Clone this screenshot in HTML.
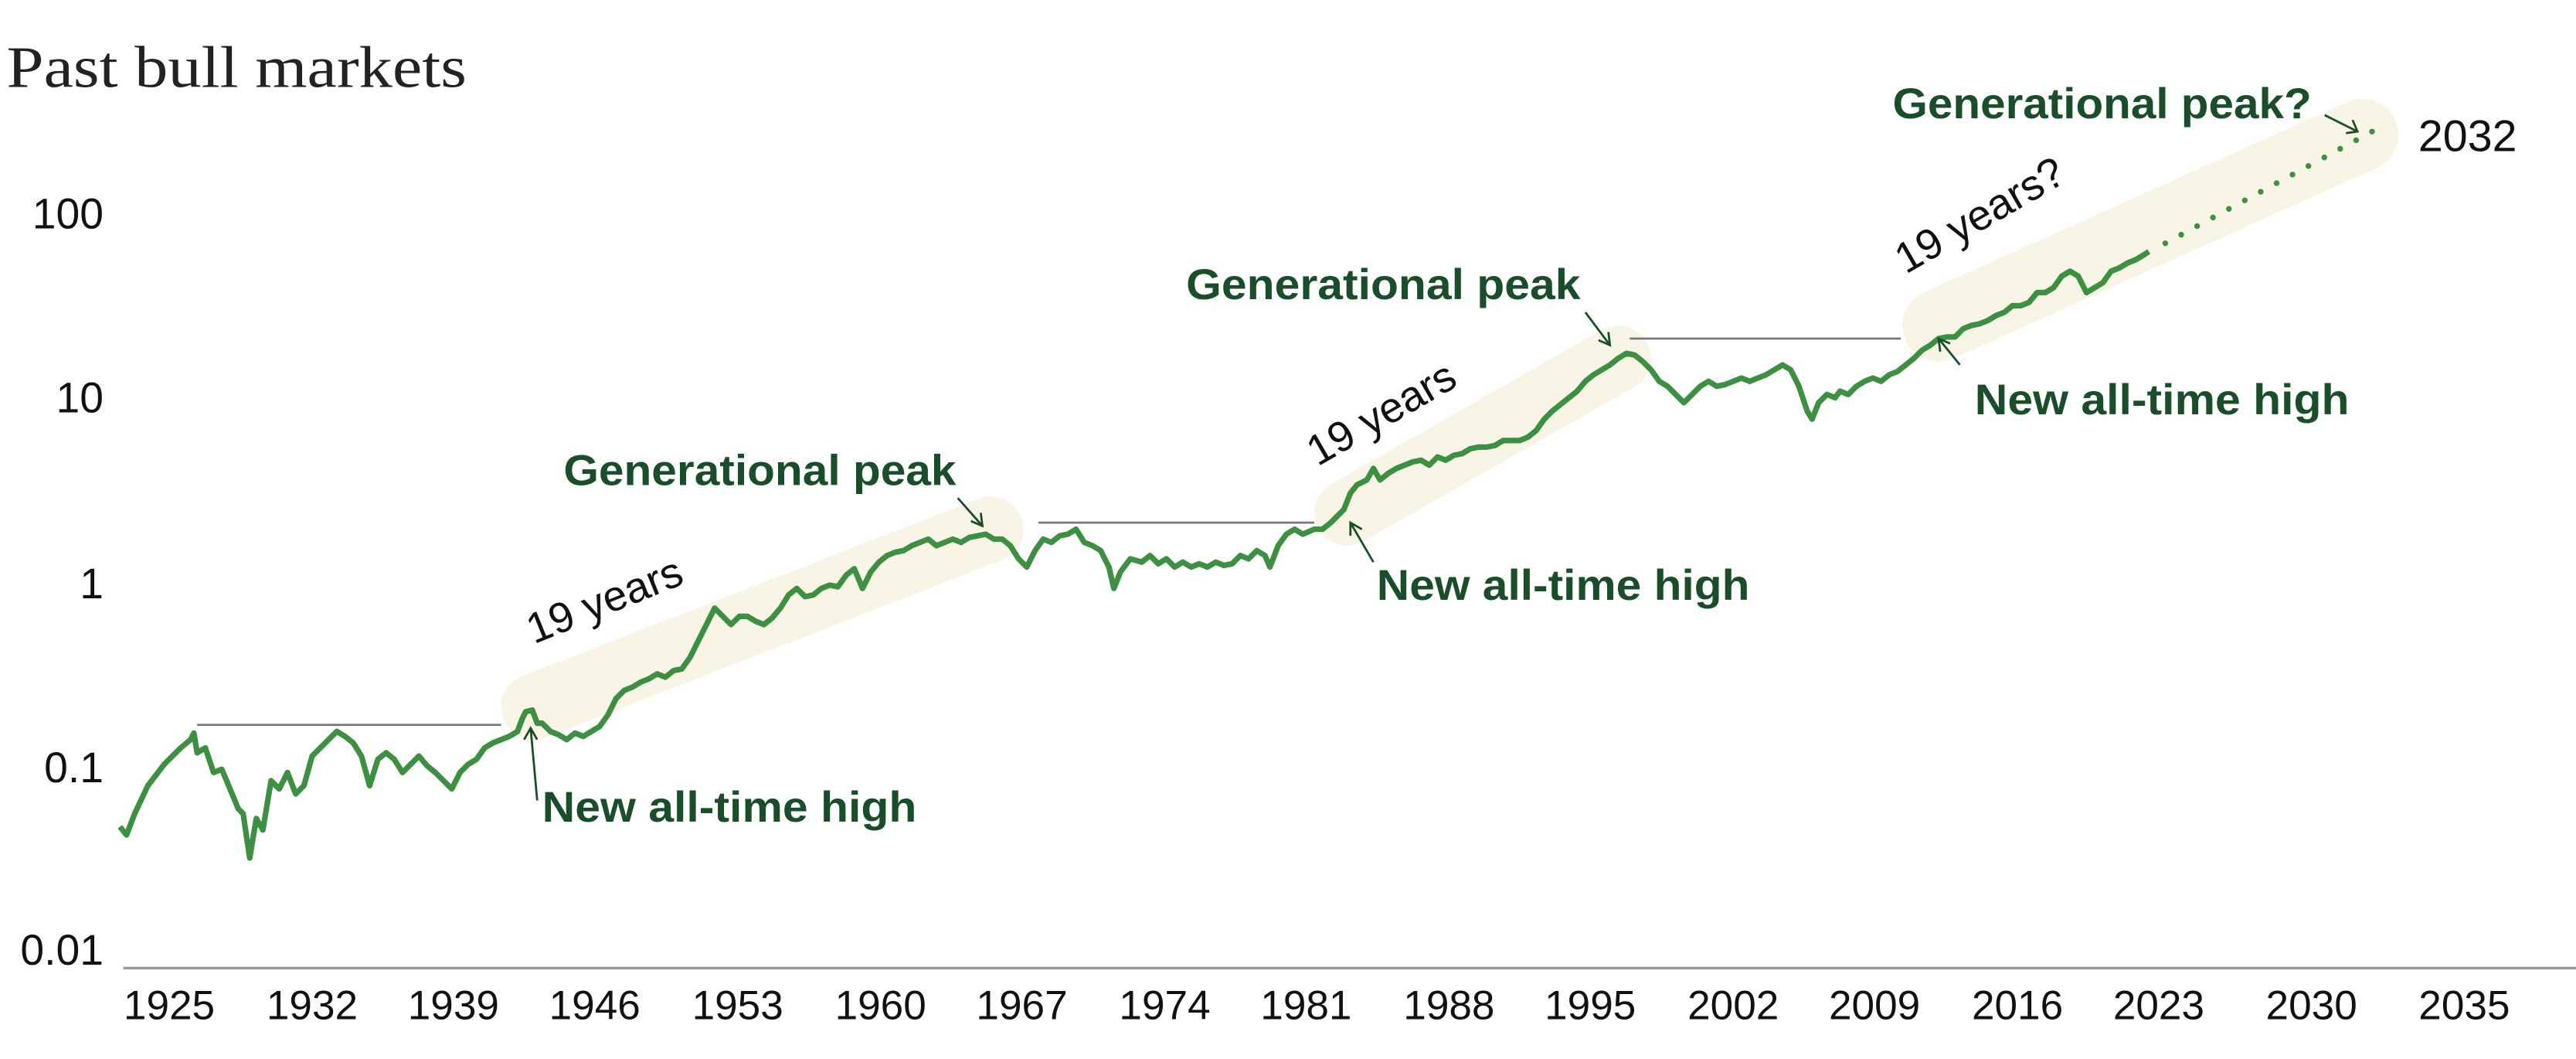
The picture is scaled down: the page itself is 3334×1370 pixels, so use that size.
<!DOCTYPE html>
<html><head><meta charset="utf-8"><style>html,body{margin:0;padding:0;background:#fff}svg{display:block}</style></head>
<body>
<svg width="3334" height="1370" viewBox="0 0 1568 644.3" xmlns="http://www.w3.org/2000/svg">
<rect width="1568" height="645" fill="#fff"/>
<g stroke="#f8f5e6" stroke-linecap="round" stroke-width="40" fill="none">
<line x1="325" y1="430" x2="603" y2="322"/>
<line x1="820" y1="312" x2="985" y2="218"/>
<line x1="1180" y1="198" x2="1438" y2="82" stroke-width="44"/>
</g>
<g stroke="#777" stroke-width="1.3">
<line x1="120" y1="441" x2="305" y2="441"/>
<line x1="632" y1="318" x2="800" y2="318"/>
<line x1="992" y1="206" x2="1157" y2="206"/>
</g>
<line x1="75" y1="589" x2="1568" y2="589" stroke="#999" stroke-width="1.6"/>
<g font-family="Liberation Sans, sans-serif" font-size="26" fill="#111" text-anchor="end">
<text x="63" y="139">100</text>
<text x="63" y="251">10</text>
<text x="63" y="364">1</text>
<text x="63" y="476">0.1</text>
<text x="63" y="587">0.01</text>
</g>
<g font-family="Liberation Sans, sans-serif" font-size="25" fill="#111" text-anchor="middle">
<text x="103" y="620">1925</text><text x="190" y="620">1932</text><text x="276" y="620">1939</text>
<text x="362" y="620">1946</text><text x="449" y="620">1953</text><text x="536" y="620">1960</text>
<text x="622" y="620">1967</text><text x="709" y="620">1974</text><text x="795" y="620">1981</text>
<text x="882" y="620">1988</text><text x="968" y="620">1995</text><text x="1055" y="620">2002</text>
<text x="1141" y="620">2009</text><text x="1228" y="620">2016</text><text x="1314" y="620">2023</text>
<text x="1407" y="620">2030</text><text x="1500" y="620">2035</text>
</g>
<text x="4" y="53" font-family="Liberation Serif, serif" font-size="36" fill="#222" textLength="280" lengthAdjust="spacingAndGlyphs">Past bull markets</text>
<polyline fill="none" stroke="#3d8f41" stroke-width="3.4" stroke-linejoin="round" points="73,503 77,508 82,495 90,478 100,465 110,455 116,450 118,446 120,458 125,455 130,470 135,468 140,480 145,492 148,495 152,522 156,498 160,505 165,475 170,480 175,470 180,483 185,478 190,460 195,455 200,450 205,445 210,448 215,452 220,460 225,478 230,462 235,458 240,462 245,470 250,465 255,460 260,466 265,470 270,475 275,480 280,470 285,465 290,462 295,455 300,452 305,450 310,448 315,445 318,437 320,433 324,432 327,440 330,440 335,445 340,447 345,450 350,446 355,448 360,445 365,442 370,435 375,425 380,420 385,418 390,415 395,413 400,410 405,412 410,408 415,407 420,400 425,390 430,380 435,370 440,375 445,380 450,375 455,375 460,378 465,380 470,376 475,370 480,362 485,358 490,363 495,362 500,358 505,356 510,357 515,350 520,346 525,358 530,348 535,342 540,338 545,336 550,335 555,332 560,330 565,328 570,332 575,330 580,328 585,330 590,327 595,326 600,325 605,328 610,328 615,332 620,340 625,345 630,335 635,328 640,330 645,326 650,325 655,322 660,330 665,332 670,335 675,345 678,358 682,348 688,340 695,342 700,338 705,343 710,340 715,345 720,342 725,345 730,343 735,345 740,342 745,344 750,343 755,338 760,340 765,335 770,338 773,345 778,332 783,325 788,322 793,325 800,322 805,322 810,318 815,313 818,310 822,300 826,295 832,292 836,285 840,292 845,288 850,285 855,283 860,281 865,280 870,283 875,278 880,280 885,277 890,276 895,273 900,272 905,272 910,271 915,268 920,268 925,268 930,266 935,262 940,255 945,250 950,246 955,242 960,238 965,232 970,228 975,225 980,222 985,218 990,215 995,216 1000,220 1005,225 1010,232 1015,235 1020,240 1025,245 1030,240 1035,235 1040,232 1045,235 1050,234 1055,232 1060,230 1065,232 1070,230 1075,228 1080,225 1085,222 1090,225 1095,235 1100,250 1103,255 1107,245 1112,240 1117,242 1120,238 1125,240 1130,235 1135,232 1140,230 1145,232 1150,228 1155,226 1160,222 1165,218 1170,213 1175,210 1180,206 1185,205 1190,205 1195,200 1200,198 1205,197 1210,195 1215,192 1220,190 1225,186 1230,186 1235,184 1240,178 1245,178 1250,175 1255,168 1260,165 1265,168 1270,178 1275,175 1280,172 1285,165 1290,163 1295,160 1300,158 1305,155 1308,153"/>
<line x1="1318" y1="148" x2="1444" y2="80" stroke="#3d8f41" stroke-width="3.5" stroke-linecap="round" stroke-dasharray="0 11"/>
<g font-family="Liberation Sans, sans-serif" font-weight="bold" font-size="26" fill="#1a4d2a">
<text x="343" y="295" textLength="239" lengthAdjust="spacingAndGlyphs">Generational peak</text>
<text x="330" y="500" textLength="228" lengthAdjust="spacingAndGlyphs">New all-time high</text>
<text x="722" y="182" textLength="240" lengthAdjust="spacingAndGlyphs">Generational peak</text>
<text x="838" y="365" textLength="227" lengthAdjust="spacingAndGlyphs">New all-time high</text>
<text x="1202" y="252" textLength="228" lengthAdjust="spacingAndGlyphs">New all-time high</text>
<text x="1152" y="72" textLength="255" lengthAdjust="spacingAndGlyphs">Generational peak?</text>
</g>
<g font-family="Liberation Sans, sans-serif" font-size="26" fill="#111">
<text x="0" y="0" transform="translate(325,392) rotate(-22)">19 years</text>
<text x="0" y="0" transform="translate(802,284) rotate(-30)">19 years</text>
<text x="0" y="0" transform="translate(1160,167) rotate(-30)">19 years?</text>
<text x="1472" y="92" font-size="27">2032</text>
</g>
<g stroke="#1a4d2a" stroke-width="1.3" fill="none">
<path d="M583,303 L598,320 M591,317 L598,320 L597,312"/>
<path d="M327,487 L323,443 M319,450 L323,443 L327,450"/>
<path d="M965,190 L980,210 M973,207 L980,210 L979,202"/>
<path d="M836,342 L822,318 M822,326 L822,318 L829,322"/>
<path d="M1193,222 L1180,206 M1181,214 L1180,206 L1187,209"/>
<path d="M1415,70 L1435,80 M1428,81 L1435,80 L1432,73"/>
</g>
</svg>
</body></html>
